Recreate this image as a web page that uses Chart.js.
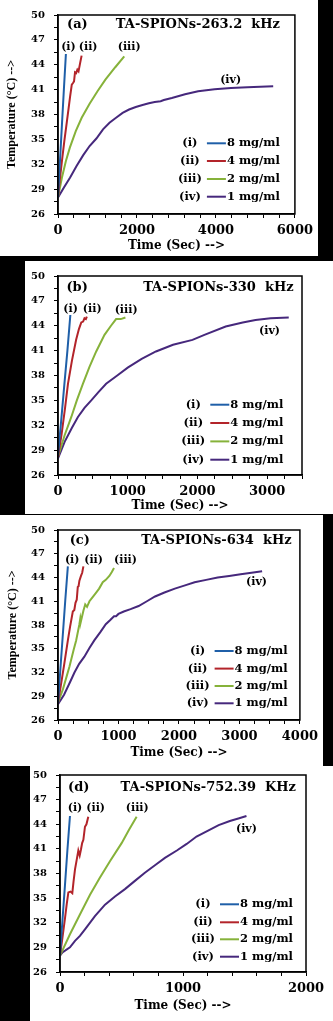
<!DOCTYPE html>
<html><head><meta charset="utf-8">
<script src="https://cdn.jsdelivr.net/npm/chart.js@4.4.1/dist/chart.umd.min.js"></script>
<style>
html,body{margin:0;padding:0;background:#000;width:333px;height:1021px;overflow:hidden}
body{position:relative}
.panel{position:absolute;background:#fff}
canvas{position:absolute}
</style></head><body>
<div class="panel" style="left:0;top:0;width:318px;height:256px"></div>
<div class="panel" style="left:25px;top:261px;width:308px;height:253px"></div>
<div class="panel" style="left:0;top:515px;width:323px;height:251px"></div>
<div class="panel" style="left:30px;top:766px;width:303px;height:255px"></div>
<canvas id="ca" width="318" height="256" style="left:0;top:0"></canvas>
<canvas id="cb" width="308" height="253" style="left:25px;top:261px"></canvas>
<canvas id="cc" width="323" height="251" style="left:0;top:515px"></canvas>
<canvas id="cd" width="303" height="261" style="left:30px;top:760px"></canvas>
<script>
// ---------- categories / labels ----------
const concentrations = ['8 mg/ml','4 mg/ml','2 mg/ml','1 mg/ml'];
const curveTags = ['(i)','(ii)','(iii)','(iv)'];
const panelLetters = ['(a)','(b)','(c)','(d)'];
const panelTitles = ['TA-SPIONs-263.2  kHz','TA-SPIONs-330  kHz','TA-SPIONs-634  kHz','TA-SPIONs-752.39  KHz'];
const yTickLabels = [26,29,32,35,38,41,44,47,50];
const xTickLabelsA = [0,2000,4000,6000];
const xTickLabelsB = [0,1000,2000,3000];
const xTickLabelsC = [0,1000,2000,3000,4000];
const xTickLabelsD = [0,1000,2000];

// ---------- panel (a) 263.2 kHz ----------
const timeA1 = [0,50,100,150,200];
const tempA1 = [28,32.4,36.8,41.1,45.3];
const timeA2 = [0,50,100,160,224,270,307,349,380,406,431,460,490,520,560,598];
const tempA2 = [28,30.3,32.4,34.8,37.1,38.8,40.2,41.6,41.8,42.0,43.1,43.0,43.4,43.2,44.2,45.1];
const timeA3 = [0,100,200,300,450,600,800,1000,1200,1450,1678];
const tempA3 = [28,30.4,32.4,34.0,36.0,37.6,39.3,40.8,42.2,43.7,45.0];
const timeA4 = [0,150,307,470,639,800,972,1140,1304,1470,1636,1800,1970,2140,2302,2450,2600,2680,2883,3217,3549,3965,4380,4796,5450];
const tempA4 = [28,29.2,30.4,31.8,33.1,34.2,35.1,36.2,37.0,37.6,38.2,38.6,38.9,39.15,39.35,39.5,39.6,39.75,40.0,40.45,40.8,41.05,41.2,41.3,41.4];

// ---------- panel (b) 330 kHz ----------
const timeB1 = [0,45,90,135,177];
const tempB1 = [28.4,32.5,36.8,41.0,45.3];
const timeB2 = [0,50,100,143,200,260,300,334,360,380,400,414];
const tempB2 = [28.2,30.8,34.0,37.0,39.8,42.3,43.6,44.4,44.5,44.9,44.8,45.1];
const timeB3 = [0,95,191,270,357,450,548,667,760,833,900,967];
const tempB3 = [28.2,30.8,33.0,35.0,37.0,39.0,40.9,42.9,44.0,44.8,44.8,45.0];
const timeB4 = [0,95,200,286,380,477,580,690,850,1000,1200,1405,1650,1929,2100,2405,2650,2833,3050,3310];
const tempB4 = [28.0,30.0,31.7,33.0,34.1,35.0,36.0,37.0,38.0,38.95,40.0,40.9,41.7,42.3,42.9,43.9,44.4,44.7,44.9,45.0];

// ---------- panel (c) 634 kHz ----------
const timeC1 = [0,40,80,120,163];
const tempC1 = [28.2,32.5,36.8,41.1,45.4];
const timeC2 = [0,50,100,163,200,245,270,289,310,327,340,354,380,400,420];
const tempC2 = [28.2,30.5,32.9,36.05,37.8,39.7,39.9,40.8,41.2,42.8,42.9,43.6,44.2,44.6,45.4];
const timeC3 = [0,82,191,260,300,354,370,380,420,450,480,520,560,631,680,740,790,849,890,926];
const tempC3 = [28.2,29.9,32.8,34.9,36.05,38.1,38.9,38.5,39.8,40.6,40.3,41.0,41.4,42.1,42.6,43.4,43.7,44.2,44.7,45.2];
const timeC4 = [0,100,200,272,350,436,520,600,700,790,860,926,960,1000,1088,1200,1333,1470,1605,1760,1932,2100,2259,2450,2640,2830,3020,3200,3375];
const tempC4 = [28.0,29.2,30.8,32.0,33.1,34.0,35.1,36.05,37.1,38.1,38.6,39.1,39.1,39.4,39.7,40.0,40.4,41.0,41.6,42.1,42.6,43.0,43.4,43.7,44.0,44.2,44.4,44.6,44.8];

// ---------- panel (d) 752.39 kHz ----------
const timeD1 = [0,20,40,60,81];
const tempD1 = [28,32.3,36.5,40.8,45];
const timeD2 = [0,20,41,55,68,85,100,110,122,135,149,160,170,180,190,203,215,230];
const tempD2 = [28,30.2,32.6,34.3,35.7,35.8,35.6,37.0,38.5,39.6,40.8,40.2,40.9,41.7,42.1,43.7,44.0,44.9];
const timeD3 = [0,81,162,244,325,406,501,560,623];
const tempD3 = [28,30.6,33.0,35.4,37.5,39.5,41.7,43.3,44.9];
const timeD4 = [0,20,41,81,122,162,203,284,366,447,528,609,690,772,853,950,1030,1110,1200,1290,1381,1450,1516];
const tempD4 = [28,28.4,28.6,29.0,29.8,30.4,31.2,32.8,34.2,35.2,36.1,37.1,38.1,39.0,39.9,40.8,41.6,42.5,43.2,43.9,44.4,44.7,45.0];

const seriesColors = ['#1f5fa8','#b3242a','#86b23a','#46287c'];

Chart.defaults.font.family = 'DejaVu Serif';
Chart.defaults.color = '#000';

const deco = {
  id:'deco',
  afterDraw(chart, args, o){
    const {ctx, chartArea:a, scales:{x,y}} = chart;
    ctx.save();
    ctx.strokeStyle='#000'; ctx.lineWidth=1.5;
    ctx.strokeRect(a.left,a.top,a.right-a.left,a.bottom-a.top);
    ctx.fillStyle='#000'; ctx.textBaseline='middle';
    ctx.font='bold 13px "DejaVu Serif"';
    ctx.textAlign='left'; ctx.fillText(o.letter, a.left+o.letterDx, a.top+o.titleDy);
    ctx.textAlign='right'; ctx.fillText(o.title, a.right-o.titleDx, a.top+o.titleDy);
    ctx.font='bold 11px "DejaVu Serif"'; ctx.textAlign='center';
    o.tagPos.forEach((p,i)=>ctx.fillText(curveTags[i], x.getPixelForValue(p[0]), y.getPixelForValue(p[1])));
    ctx.font='bold 11.5px "DejaVu Serif"';
    chart.data.datasets.forEach((ds,i)=>{
      const yy = a.bottom - o.legendRows[i];
      const lx = a.right - o.legendDx;
      ctx.textAlign='center'; ctx.fillStyle='#000';
      ctx.fillText(curveTags[i], lx-17, yy);
      ctx.strokeStyle=ds.borderColor; ctx.lineWidth=2;
      ctx.beginPath(); ctx.moveTo(lx,yy); ctx.lineTo(lx+19,yy); ctx.stroke();
      ctx.textAlign='left'; ctx.fillText(ds.label, lx+20, yy);
    });
    ctx.restore();
  }
};

function pts(ts, Ts){ return ts.map((t,k)=>({x:t, y:Ts[k]})); }

function makeChart(id, cfg){
  const datasets = cfg.series.map((s,i)=>({
    label: concentrations[i], data: pts(s[0], s[1]),
    borderColor: seriesColors[i], backgroundColor: seriesColors[i],
    borderWidth: 2, pointRadius: 0, tension: 0, fill:false
  }));
  new Chart(document.getElementById(id), {
    type:'line',
    data:{datasets},
    options:{
      responsive:false, animation:false, devicePixelRatio:1,
      layout:{padding:cfg.pad},
      plugins:{legend:{display:false}, tooltip:{enabled:false}, deco:cfg.deco},
      scales:{
        x:{type:'linear', min:0, max:cfg.xmax,
          ticks:{stepSize:cfg.xminor, autoSkip:false, maxRotation:0, padding:5,
            font:{size:13, weight:'bold'}, color:'#000',
            callback:v=> cfg.xlabels.includes(v) ? String(v) : ''},
          grid:{drawOnChartArea:false, drawTicks:true, tickLength:4, color:'#000', tickColor:'#000'},
          border:{color:'#000', width:1.5},
          title:{display:true, text:'Time (Sec) -->', color:'#000',
            font:{size:12, weight:'bold'}, padding:{top:0,bottom:cfg.xTitlePad}},
          afterFit:s=>{s.height=cfg.xh;}
        },
        y:{type:'linear', min:26, max:50,
          ticks:{stepSize:1.5, autoSkip:false, padding:9,
            font:{size:10, weight:'bold'}, color:'#000',
            callback:v=> yTickLabels.includes(v) ? String(v) : ''},
          grid:{drawOnChartArea:false, drawTicks:true, tickLength:4, color:'#000', tickColor:'#000'},
          border:{color:'#000', width:1.5},
          title:{display:cfg.ytitle, text:'Temperature (\u00B0C) -->', color:'#000',
            font:{family:'Liberation Serif', size:12, weight:'bold'}, padding:{top:cfg.yTitlePad, bottom:0}},
          afterFit:s=>{s.width=cfg.yw;}
        }
      }
    },
    plugins:[deco]
  });
}

makeChart('ca', {
  series:[[timeA1,tempA1],[timeA2,tempA2],[timeA3,tempA3],[timeA4,tempA4]],
  xmax:6000, xminor:400, xlabels:xTickLabelsA,
  pad:{left:0, top:10, right:20, bottom:0}, yw:58, xh:42, xTitlePad:3, ytitle:true, yTitlePad:4.5,
  deco:{letter:panelLetters[0], title:panelTitles[0], letterDx:9, titleDx:15, titleDy:9.5,
    tagPos:[[264,46.15],[763,46.15],[1803,46.15],[4372,42.2]],
    legendRows:[70.7,53,35,17.3], legendDx:88}
});
makeChart('cb', {
  series:[[timeB1,tempB1],[timeB2,tempB2],[timeB3,tempB3],[timeB4,tempB4]],
  xmax:3500, xminor:250, xlabels:xTickLabelsB,
  pad:{left:0, top:13, right:31, bottom:0}, yw:33, xh:39, xTitlePad:1, ytitle:false, yTitlePad:0,
  deco:{letter:panelLetters[1], title:panelTitles[1], letterDx:8.4, titleDx:8.4, titleDy:12,
    tagPos:[[181,46.0],[491,46.0],[977,45.9],[3034,43.4]],
    legendRows:[70.3,52,33.6,15.3], legendDx:91.7}
});
makeChart('cc', {
  series:[[timeC1,tempC1],[timeC2,tempC2],[timeC3,tempC3],[timeC4,tempC4]],
  xmax:4000, xminor:250, xlabels:xTickLabelsC,
  pad:{left:0, top:9, right:20, bottom:0}, yw:58, xh:46, xTitlePad:6, ytitle:true, yTitlePad:6,
  deco:{letter:panelLetters[2], title:panelTitles[2], letterDx:11.7, titleDx:8.3, titleDy:10.3,
    tagPos:[[235,46.2],[588,46.2],[1116,46.2],[3282,43.4]],
    legendRows:[69,51.4,34,16.7], legendDx:85.3}
});
makeChart('cd', {
  series:[[timeD1,tempD1],[timeD2,tempD2],[timeD3,tempD3],[timeD4,tempD4]],
  xmax:2000, xminor:200, xlabels:xTickLabelsD,
  pad:{left:0, top:10, right:27, bottom:0}, yw:30, xh:49, xTitlePad:8, ytitle:false, yTitlePad:0,
  deco:{letter:panelLetters[3], title:panelTitles[3], letterDx:8, titleDx:10, titleDy:12.7,
    tagPos:[[122,45.96],[290,45.96],[628,45.96],[1516,43.35]],
    legendRows:[67.7,49.7,32.7,15.3], legendDx:86}
});
</script>
</body></html>
